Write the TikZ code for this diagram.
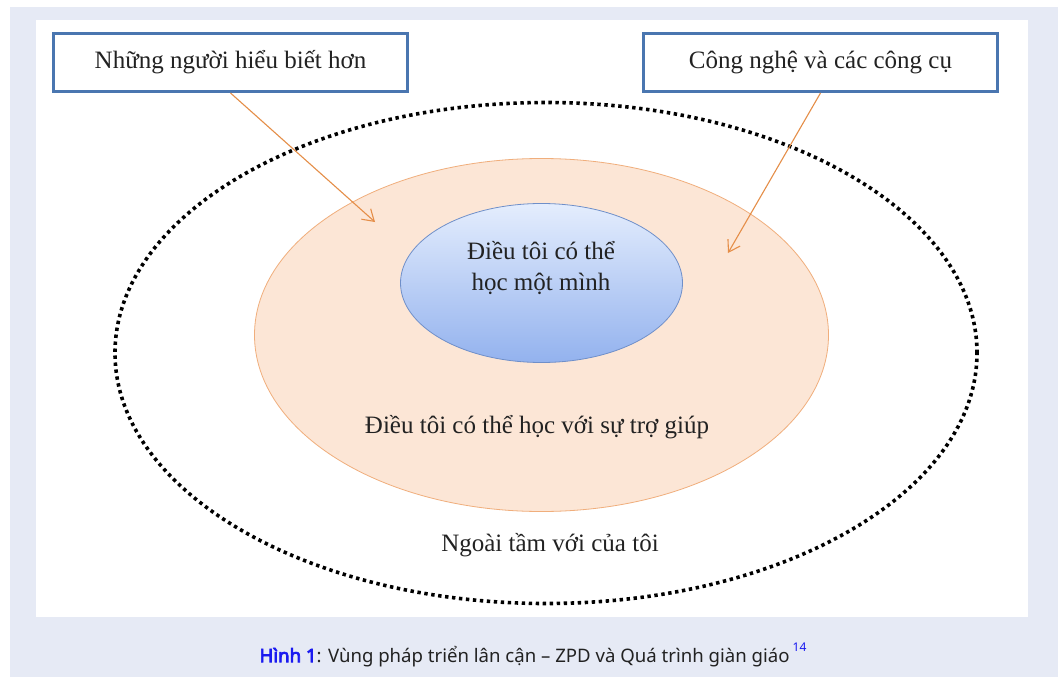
\documentclass[tikz,border=0pt]{standalone}
\usepackage{fontspec}
\setmainfont{Liberation Serif}
\newfontfamily\capfont{Noto Sans}
\newfontfamily\capboldfont{Noto Sans}[FakeBold=4]
\usetikzlibrary{shapes.geometric,arrows.meta}
\definecolor{pagebg}{HTML}{E6EAF5}
\definecolor{boxblue}{HTML}{4A76B0}
\definecolor{peach}{HTML}{FCE6D6}
\definecolor{peachline}{HTML}{F0AE7C}
\definecolor{arrorange}{HTML}{E58E48}
\definecolor{selftop}{HTML}{E4EDFD}
\definecolor{selfbot}{HTML}{93B2EE}
\definecolor{selfline}{HTML}{6F8FC9}
\definecolor{ink}{HTML}{222222}
\definecolor{capblue}{HTML}{1A1AF0}
\begin{document}
\begin{tikzpicture}[x=1pt,y=-1pt,
    label box/.style={draw=boxblue, line width=3pt, fill=white, minimum width=354pt, minimum height=58pt, font=\fontsize{25}{30}\selectfont, text=ink},
    txt/.style={font=\fontsize{25}{31}\selectfont, text=ink},
    help arrow/.style={draw=arrorange, line width=1.1pt, -{Straight Barb[length=11pt,width=14pt]}}]
    \useasboundingbox (0,0) rectangle (1058,677);
    \fill[pagebg] (10,7) rectangle (1058,677);
    \fill[white] (36,20) rectangle (1028,617);

    \node[ellipse, draw=black, line width=3.6pt, dash pattern=on 3.4pt off 3.6pt, minimum width=862pt, minimum height=501pt] (reach) at (546,353) {};
    \node[ellipse, draw=peachline, line width=0.8pt, fill=peach, minimum width=574pt, minimum height=353pt] (zpd) at (541.5,335) {};
    \node[ellipse, draw=selfline, line width=0.8pt, top color=selftop, bottom color=selfbot, minimum width=282pt, minimum height=159pt] (self) at (541.5,283) {};

    \node[txt, align=center] (selflbl) at (541,268) {Điều tôi có thể\\học một mình};
    \node[txt] (zpdlbl) at (537,427) {Điều tôi có thể học với sự trợ giúp};
    \node[txt] (reachlbl) at (550,545) {Ngoài tầm với của tôi};

    \node[label box] (knowers) at (230.5,62.5) {Những người hiểu biết hơn};
    \node[label box] (tools) at (820.5,62.5) {Công nghệ và các công cụ};

    \coordinate (tipA) at (375,222);
    \coordinate (tipB) at (728,253);
    \draw[help arrow] (knowers.south) -- (tipA);
    \draw[help arrow] (tools.south) -- (tipB);

    \node[font=\capfont\fontsize{18.6}{22}\selectfont, text=ink] (caption) at (533,655) {\textcolor{capblue}{\capboldfont Hình 1}: Vùng pháp triển lân cận – ZPD và Quá trình giàn giáo\,\raisebox{0.55em}{\textcolor{capblue}{\fontsize{12}{13}\selectfont 14}}};
\end{tikzpicture}
\end{document}
